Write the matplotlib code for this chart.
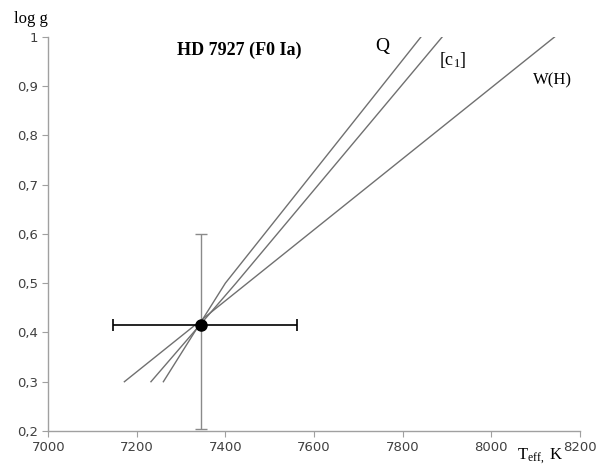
import matplotlib
matplotlib.use("Agg")
import matplotlib.pyplot as plt
from matplotlib.ticker import FuncFormatter

plt.rcParams["mathtext.fontset"] = "custom"
plt.rcParams["mathtext.rm"] = "Liberation Serif"
plt.rcParams["mathtext.it"] = "Liberation Serif:italic"
plt.rcParams["mathtext.bf"] = "Liberation Serif:bold"

# Data
q_T = [7260, 7400, 7842]
q_g = [0.3, 0.5, 1.0]
c1_T = [7232, 7424, 7890]
c1_g = [0.3, 0.5, 1.0]
wh_T = [7172, 8144]
wh_g = [0.3, 1.0]
star_T = 7345
star_g = 0.415
T_err_lo, T_err_hi = 7146, 7562
g_err_lo, g_err_hi = 0.204, 0.600
x_ticks = [7000, 7200, 7400, 7600, 7800, 8000, 8200]
y_ticks = [0.2, 0.3, 0.4, 0.5, 0.6, 0.7, 0.8, 0.9, 1.0]

W, H = 602, 466
fig = plt.figure(figsize=(W / 100, H / 100), dpi=100)
ax = fig.add_axes([48.2 / W, 1 - 431 / H, (579.7 - 48.2) / W, (431 - 36.7) / H])

line_col = "#707070"
for T, g in [(q_T, q_g), (c1_T, c1_g), (wh_T, wh_g)]:
    ax.plot(T, g, color=line_col, lw=1.0)

ax.errorbar([star_T], [star_g], yerr=[[star_g - g_err_lo], [g_err_hi - star_g]],
            fmt="none", ecolor="#8a8a8a", elinewidth=1.0, capsize=4, capthick=1.0)
ax.errorbar([star_T], [star_g], xerr=[[star_T - T_err_lo], [T_err_hi - star_T]],
            fmt="none", ecolor="black", elinewidth=1.2, capsize=4, capthick=1.2)
ax.plot([star_T], [star_g], "o", color="black", ms=8, zorder=5)

ax.set_xlim(7000, 8200)
ax.set_ylim(0.2, 1.0)
ax.set_xticks(x_ticks)
ax.set_yticks(y_ticks)
ax.yaxis.set_major_formatter(FuncFormatter(lambda v, p: ("%g" % round(v, 2)).replace(".", ",")))
ax.xaxis.set_major_formatter(FuncFormatter(lambda v, p: "%d" % v))
for s in ["top", "right"]:
    ax.spines[s].set_visible(False)
for s in ["left", "bottom"]:
    ax.spines[s].set_color("#a0a0a0")
    ax.spines[s].set_linewidth(1.0)
ax.tick_params(axis="both", direction="out", length=4, color="#a0a0a0",
               labelsize=9.5, labelcolor="#404040", pad=3)

serif = "Liberation Serif"
def ftext(x, y, s, **kw):
    fig.text(x / W, 1 - y / H, s, family=serif, ha="center", va="center", **kw)

ftext(239, 50, "HD 7927 (F0 Ia)", fontsize=13, fontweight="bold")
ftext(382, 47, "Q", fontsize=14)
ftext(453, 60, "[c$_1$]", fontsize=13)
ftext(552, 80, "W(H)", fontsize=12)
ftext(31, 19, "log g", fontsize=12)
ftext(540, 456, "T$_{\\rm eff,}$ K", fontsize=12)

fig.savefig("out.png", dpi=100)
